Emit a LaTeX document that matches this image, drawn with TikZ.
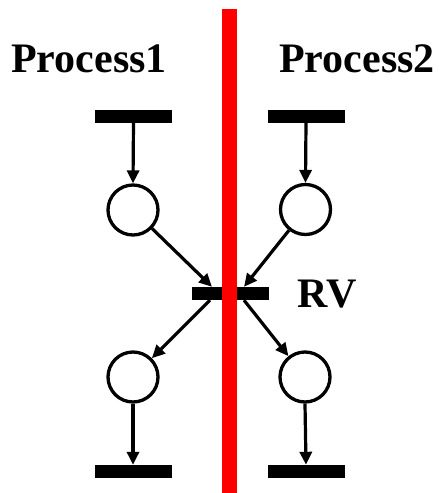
\documentclass[tikz,border=0pt]{standalone}
\usepackage{fontspec}
\setmainfont{Liberation Serif}
\usetikzlibrary{positioning,arrows.meta}
\definecolor{cWall}{RGB}{255,0,0}

\begin{document}
\begin{tikzpicture}[x=1pt,y=-1pt,font=\fontsize{42}{48}\selectfont\bfseries]
\tikzset{trans/.style={fill=black,minimum width=77pt,minimum height=13pt,inner sep=0pt},
place/.style={circle,draw,line width=3.3pt,minimum size=50pt,inner sep=0pt},
arc/.style={-{Triangle[length=13pt,width=12pt]},line width=3.2pt}}
\useasboundingbox (0,0) rectangle (443,493);

% process 1
\node[trans] (t1a) at (133.5,116) {};
\node[place] (p1a) at (133,210) {};
\node[place] (p1b) at (133,377) {};
\node[trans] (t1b) at (133,471.5) {};
% process 2
\node[trans] (t2a) at (306,116) {};
\node[place] (p2a) at (305.5,209.5) {};
\node[place] (p2b) at (305,377) {};
\node[trans] (t2b) at (306,471.5) {};
% rendezvous
\node[trans] (rv) at (230,293.5) {};

\node[anchor=base] (lab1) at (89,72) {Process1};
\node[anchor=base] (lab2) at (357,72) {Process2};
\node[anchor=base] (labrv) at (327,307) {RV};

\draw[arc] (t1a.south) -- (p1a.north);
\draw[arc] (t2a.south) -- (p2a.north);
\draw[arc] (p1a) -- ([xshift=-18pt]rv.north);
\draw[arc] (p2a) -- ([xshift=14pt]rv.north);
\draw[arc] ([xshift=-20pt]rv.south) -- (p1b);
\draw[arc] ([xshift=14pt]rv.south) -- (p2b);
\draw[arc] (p1b.south) -- (t1b.north);
\draw[arc] (p2b.south) -- (t2b.north);

% separation wall
\fill[cWall] (222,9) rectangle (237,493);
\end{tikzpicture}
\end{document}
